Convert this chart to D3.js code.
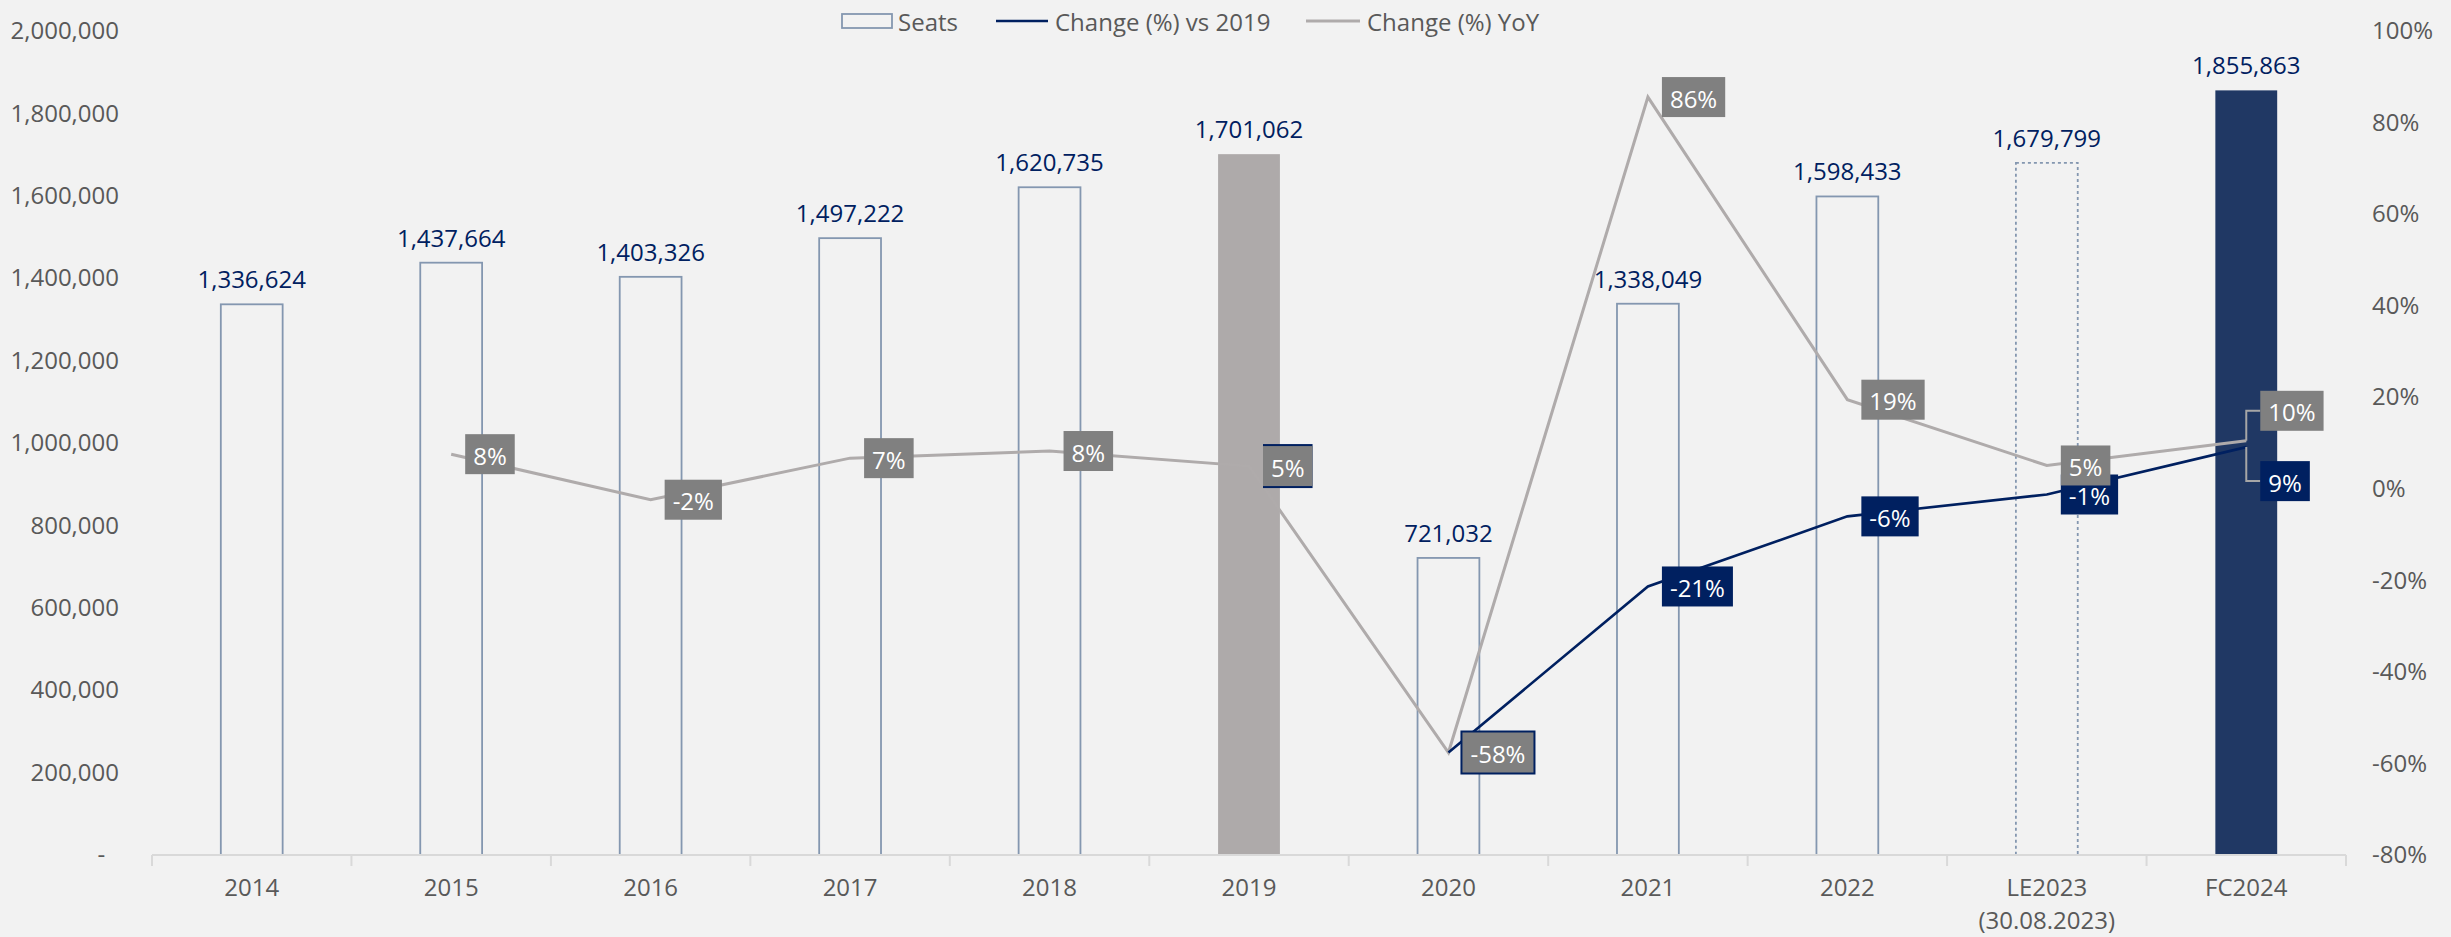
<!DOCTYPE html>
<html>
<head>
<meta charset="utf-8">
<script src="https://cdn.jsdelivr.net/npm/d3@7"></script>
<style>
  body { margin: 0; background: #f2f2f2; }
  text { font-family: "Open Sans", sans-serif; }
</style>
</head>
<body>
<div id="chart"></div>
<script>
// chart size (matches the screenshot)
var w = 2451;
var h = 937;

// data
var categories = ["2014", "2015", "2016", "2017", "2018", "2019", "2020", "2021", "2022", "LE2023", "FC2024"];
var categoryNotes = ["", "", "", "", "", "", "", "", "", "(30.08.2023)", ""];
var seats = [1336624, 1437664, 1403326, 1497222, 1620735, 1701062, 721032, 1338049, 1598433, 1679799, 1855863];
var changeYoY = [null, 7.56, -2.39, 6.69, 8.25, 4.96, -57.61, 85.57, 19.46, 5.09, 10.48];
var changeVs2019 = [null, null, null, null, null, null, -57.61, -21.34, -6.03, -1.25, 9.10];
var leftTicks = [0, 200000, 400000, 600000, 800000, 1000000, 1200000, 1400000, 1600000, 1800000, 2000000];
var rightTicks = [-80, -60, -40, -20, 0, 20, 40, 60, 80, 100];

var navy = "#002060";
var greyLine = "#afabab";
var axisText = "#595959";
var barEdge = "#8497b0";

var svg = d3.select("#chart")
            .append("svg")
            .attr("width", w)
            .attr("height", h);

svg.append("rect").attr("width", w).attr("height", h).attr("fill", "#f2f2f2");

//scales
var xscale = d3.scaleBand()
                .domain(categories)
                .range([152, 2346]);

var yLeft = d3.scaleLinear()
                .domain([0, 2000000])
                .range([855, 31]);

var yRight = d3.scaleLinear()
                .domain([-80, 100])
                .range([855, 31]);

var bw = xscale.bandwidth();
var barW = bw * 0.31;
var cx = c => xscale(c) + bw / 2;

//left axis
var leftAxis = d3.axisLeft(yLeft)
                .tickValues(leftTicks)
                .tickSize(0)
                .tickPadding(6)
                .tickFormat(d => d == 0 ? "-\u2007" : d3.format(",")(d));

svg.append("g")
    .attr("transform", "translate(125,0)")
    .call(leftAxis)
    .call(g => g.select(".domain").remove())
    .selectAll("text")
    .attr("fill", axisText)
    .style("font-size", "24px")
    .style("font-family", "Open Sans");

//right axis
var rightAxis = d3.axisRight(yRight)
                .tickValues(rightTicks)
                .tickSize(0)
                .tickPadding(0)
                .tickFormat(d => d + "%");

svg.append("g")
    .attr("transform", "translate(2372,0)")
    .call(rightAxis)
    .call(g => g.select(".domain").remove())
    .selectAll("text")
    .attr("fill", axisText)
    .style("font-size", "24px")
    .style("font-family", "Open Sans");

//bars
svg.selectAll("rect.bar")
    .data(seats)
    .enter()
    .append("rect")
    .attr("class", "bar")
    .attr("x", (d, i) => cx(categories[i]) - barW / 2)
    .attr("y", d => yLeft(d))
    .attr("width", barW)
    .attr("height", d => yLeft(0) - yLeft(d))
    .attr("fill", function(d, i)
    {
        if (categories[i] == "2019") return "#aeaaaa";
        if (categories[i] == "FC2024") return "#203864";
        return "none";
    })
    .attr("stroke", (d, i) => (categories[i] == "2019" || categories[i] == "FC2024") ? "none" : barEdge)
    .attr("stroke-width", 1.8)
    .attr("stroke-dasharray", (d, i) => categories[i] == "LE2023" ? "3,3" : null);

//value labels above bars
svg.selectAll("text.value")
    .data(seats)
    .enter()
    .append("text")
    .attr("class", "value")
    .attr("x", (d, i) => cx(categories[i]))
    .attr("y", d => yLeft(d) - 16)
    .attr("text-anchor", "middle")
    .attr("fill", navy)
    .style("font-size", "24px")
    .text(d => d3.format(",")(d));

//x axis line and tick marks at the category borders
svg.append("line")
    .attr("x1", xscale.range()[0]).attr("x2", xscale.range()[1])
    .attr("y1", yLeft(0)).attr("y2", yLeft(0))
    .attr("stroke", "#d9d9d9").attr("stroke-width", 2);

var borders = categories.map(c => xscale(c)).concat([xscale.range()[1]]);
svg.selectAll("line.border")
    .data(borders)
    .enter()
    .append("line")
    .attr("class", "border")
    .attr("x1", d => d).attr("x2", d => d)
    .attr("y1", yLeft(0)).attr("y2", yLeft(0) + 11)
    .attr("stroke", "#d9d9d9").attr("stroke-width", 2);

var xlab = svg.selectAll("text.cat")
    .data(categories)
    .enter()
    .append("text")
    .attr("class", "cat")
    .attr("x", d => cx(d))
    .attr("y", 896)
    .attr("text-anchor", "middle")
    .attr("fill", axisText)
    .style("font-size", "24px");

xlab.append("tspan").text(d => d);
xlab.append("tspan")
    .attr("x", d => cx(d))
    .attr("dy", 33)
    .text((d, i) => categoryNotes[i]);

//lines
var yoyPts = changeYoY.map((v, i) => ({c: categories[i], v: v})).filter(d => d.v != null);
var vsPts = changeVs2019.map((v, i) => ({c: categories[i], v: v})).filter(d => d.v != null);

var line = d3.line()
            .x(d => cx(d.c))
            .y(d => yRight(d.v));

svg.append("path")
    .datum(yoyPts)
    .attr("d", line)
    .attr("fill", "none")
    .attr("stroke", greyLine)
    .attr("stroke-width", 3);

svg.append("path")
    .datum(vsPts)
    .attr("d", line)
    .attr("fill", "none")
    .attr("stroke", navy)
    .attr("stroke-width", 2.6);

//percentage label boxes
function drawLabels(points, fill, shiftFn, backing)
{
    var g = svg.append("g");
    points.forEach(function(d)
    {
        var px = cx(d.c);
        var py = yRight(d.v);
        var shift = shiftFn(d);
        var by = py + shift;
        var t = g.append("text")
                .attr("fill", "white")
                .style("font-size", "24px")
                .attr("text-anchor", "middle")
                .attr("dominant-baseline", "central")
                .text(Math.round(d.v) + "%");
        var tw = t.node().getComputedTextLength();
        var bx = px + 14;
        var boxW = tw + 16;

        if (shift != 0) //leader line when the label is pushed away
        {
            g.append("path")
                .attr("d", "M" + px + "," + py + "V" + by + "H" + bx)
                .attr("fill", "none")
                .attr("stroke", "#a6a6a6")
                .attr("stroke-width", 2);
        }
        var pad = backing(d); //navy box peeking out behind the grey one
        if (pad >= 0)
        {
            g.append("rect")
                .attr("x", bx - pad).attr("y", by - 22)
                .attr("width", boxW + 2 * pad).attr("height", 44)
                .attr("fill", navy);
        }
        g.append("rect")
            .attr("x", bx).attr("y", by - 20)
            .attr("width", boxW).attr("height", 40)
            .attr("fill", fill);
        t.attr("x", bx + boxW / 2).attr("y", by + 1).raise();
    });
}

drawLabels(vsPts, navy, d => d.c == "FC2024" ? 34 : 0, d => -1);
drawLabels(yoyPts, "#808080", d => d.c == "FC2024" ? -30 : 0, d => d.c == "2019" ? 0 : (d.c == "2020" ? 2 : -1));

//legend
var legend = svg.append("g").style("font-size", "24px");
legend.append("rect")
    .attr("x", 842).attr("y", 14).attr("width", 50).attr("height", 14)
    .attr("fill", "none").attr("stroke", barEdge).attr("stroke-width", 1.8);
legend.append("text").attr("x", 898).attr("y", 21).attr("dominant-baseline", "central")
    .attr("fill", axisText).text("Seats");
legend.append("line")
    .attr("x1", 996).attr("x2", 1048).attr("y1", 21).attr("y2", 21)
    .attr("stroke", navy).attr("stroke-width", 2.6);
legend.append("text").attr("x", 1055).attr("y", 21).attr("dominant-baseline", "central")
    .attr("fill", axisText).text("Change (%) vs 2019");
legend.append("line")
    .attr("x1", 1306).attr("x2", 1360).attr("y1", 21).attr("y2", 21)
    .attr("stroke", greyLine).attr("stroke-width", 3);
legend.append("text").attr("x", 1367).attr("y", 21).attr("dominant-baseline", "central")
    .attr("fill", axisText).text("Change (%) YoY");
</script>
</body>
</html>
